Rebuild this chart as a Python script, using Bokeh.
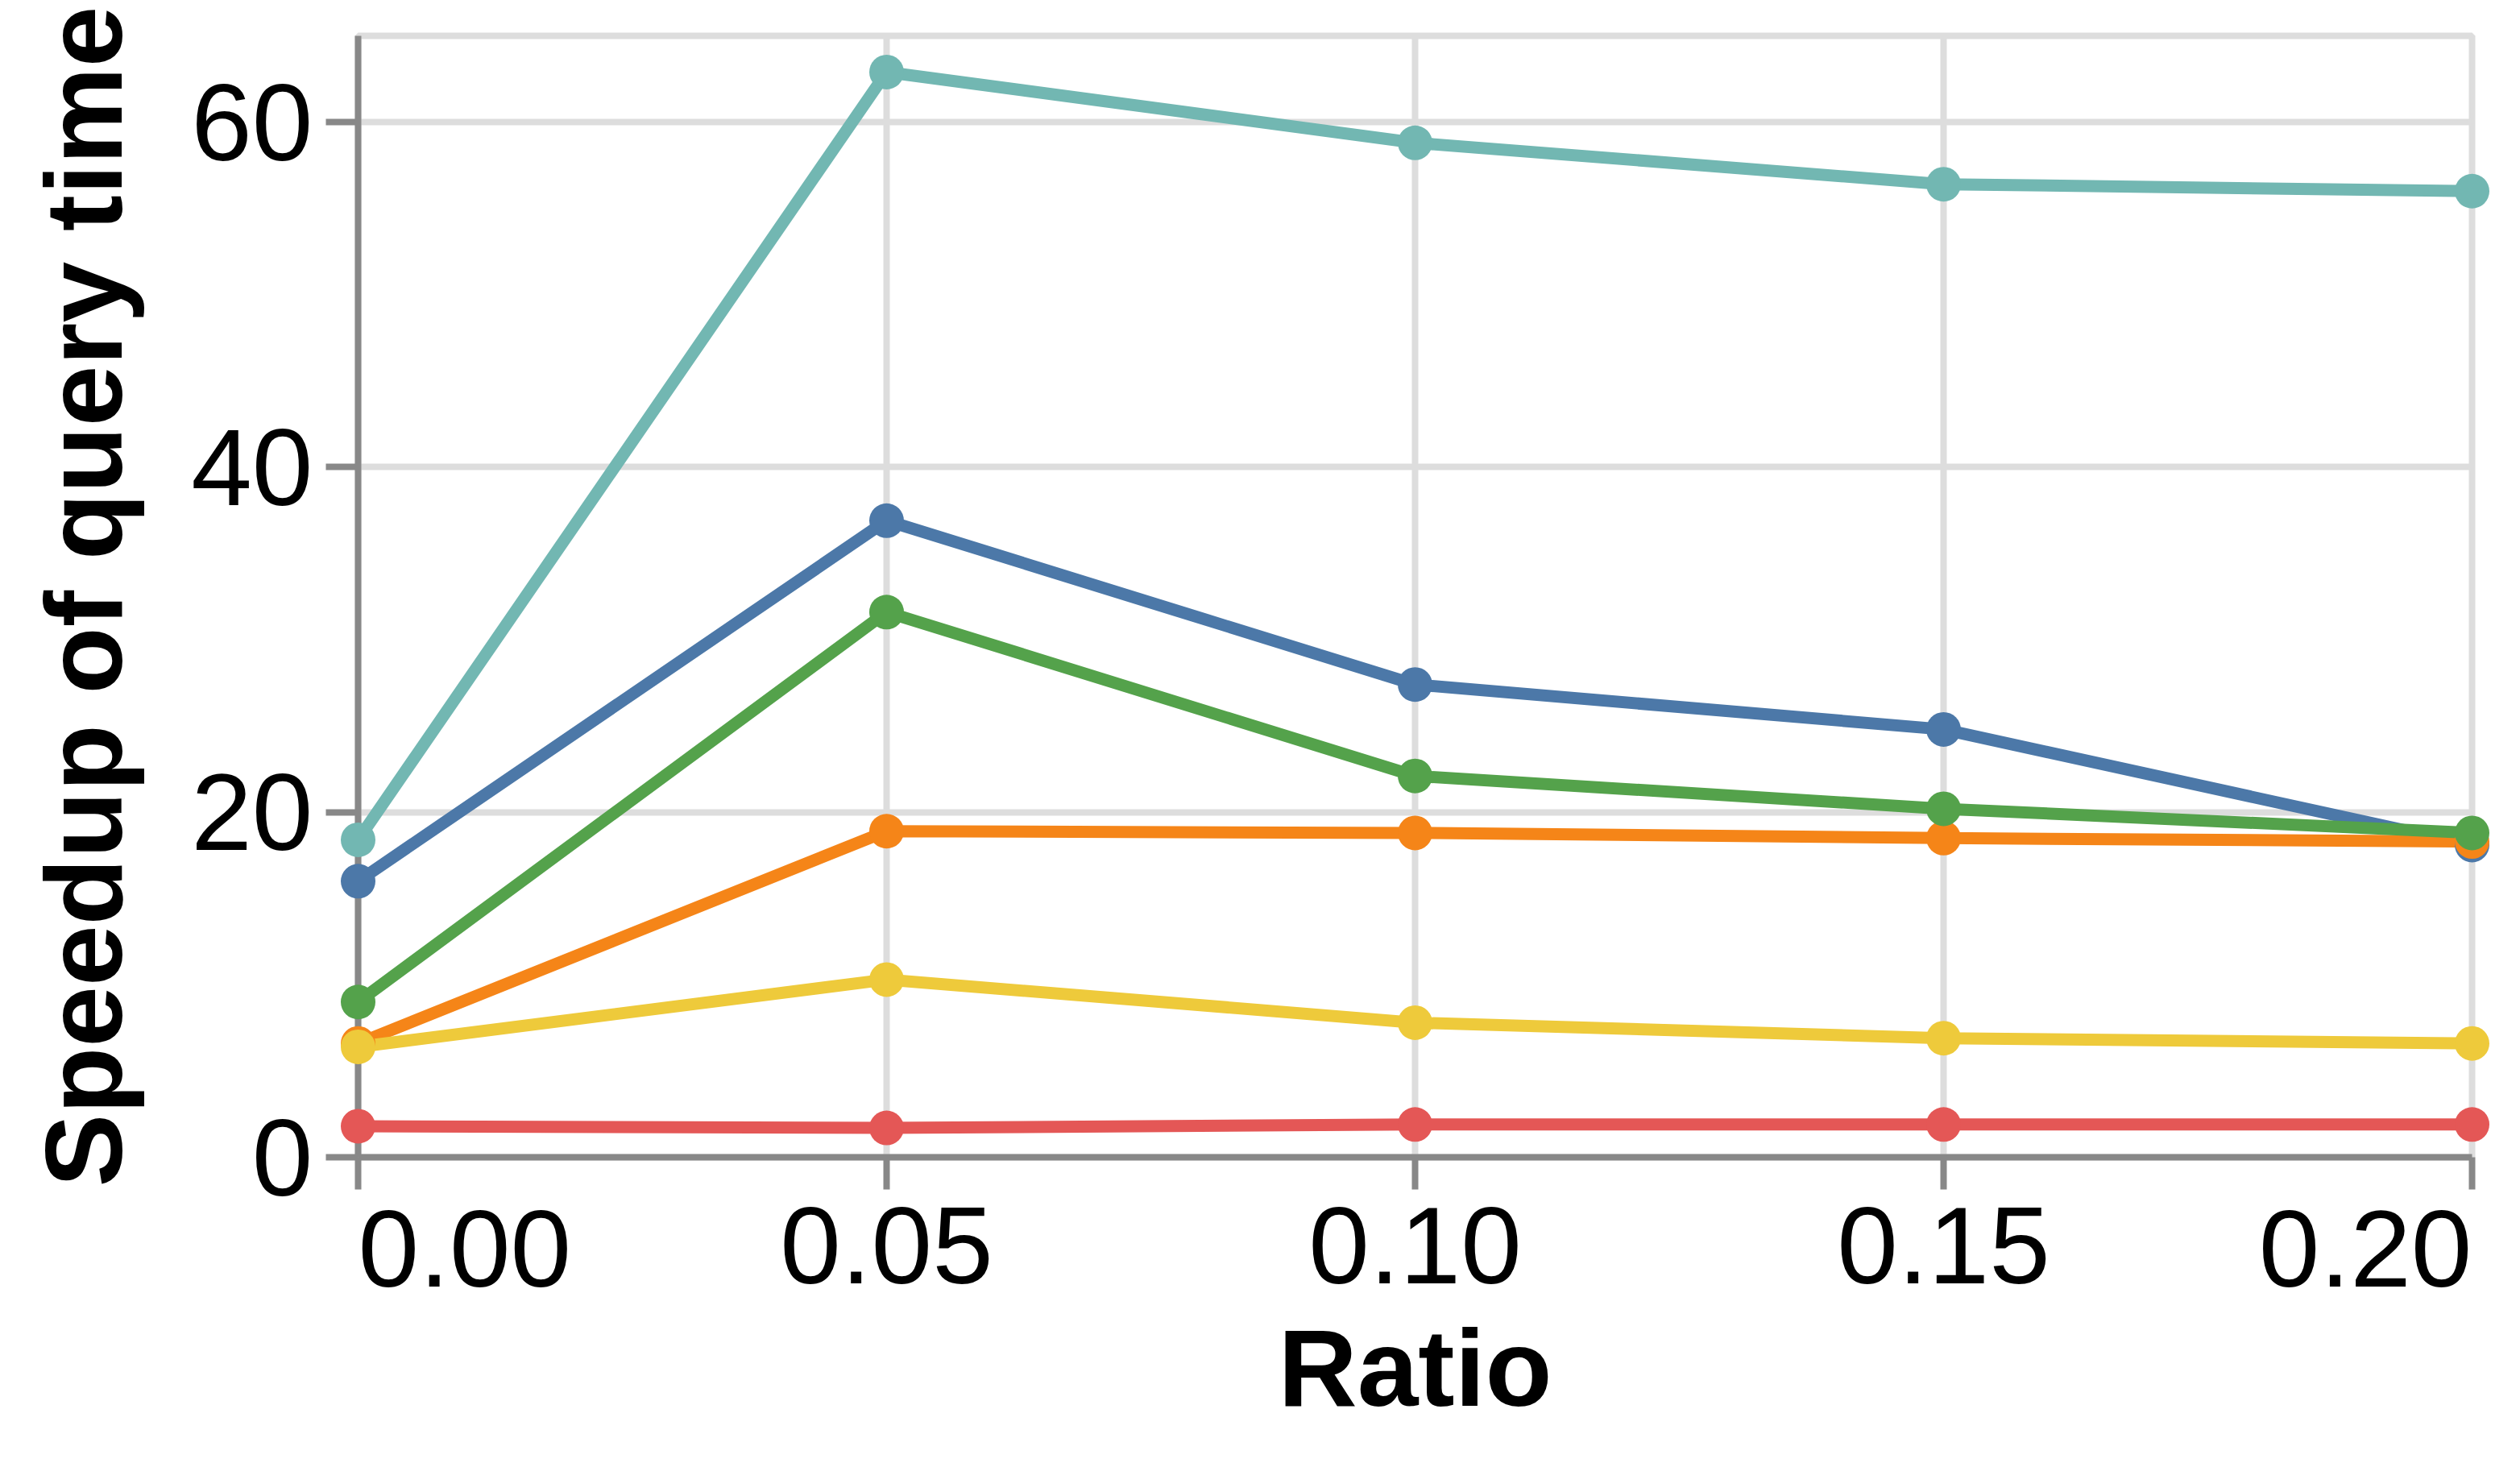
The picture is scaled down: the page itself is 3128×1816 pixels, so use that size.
from bokeh.plotting import figure
from bokeh.models import Range1d, FixedTicker, NumeralTickFormatter
from bokeh.core.properties import value
from bokeh.embed import file_html
from bokeh.resources import INLINE

# ---- data ----
ratio = [0.00, 0.05, 0.10, 0.15, 0.20]
series_blue = [16.0, 36.9, 27.4, 24.8, 18.1]
series_orange = [6.6, 18.9, 18.8, 18.5, 18.3]
series_red = [1.8, 1.7, 1.9, 1.9, 1.9]
series_teal = [18.4, 62.9, 58.8, 56.4, 56.0]
series_green = [9.0, 31.6, 22.1, 20.2, 18.8]
series_yellow = [6.4, 10.3, 7.8, 6.9, 6.6]
x_ticks = [0.00, 0.05, 0.10, 0.15, 0.20]
x_tick_labels = ["0.00", "0.05", "0.10", "0.15", "0.20"]
y_ticks = [0, 20, 40, 60]
x_title = "Ratio"
y_title = "Speedup of query time"

series = [
    (series_blue, "#4c78a8"),
    (series_orange, "#f58518"),
    (series_red, "#e45756"),
    (series_teal, "#72b7b2"),
    (series_green, "#54a24b"),
    (series_yellow, "#eeca3b"),
]

FONT = "Liberation Sans"
FS = "136px"
TICK_OUT = 40

p = figure(
    frame_width=2624, frame_height=1392,
    min_border_left=444, min_border_right=44, min_border_top=44, min_border_bottom=356,
    x_range=Range1d(0, 0.2), y_range=Range1d(0, 65),
    output_backend="svg", toolbar_location=None,
)
p.background_fill_color = "white"
p.border_fill_color = "white"
p.outline_line_color = "#dddddd"
p.outline_line_width = 8

for vals, col in series:
    p.line(ratio, vals, line_width=15, line_color=col, level="overlay")
for vals, col in series:
    p.scatter(ratio, vals, size=43, fill_color=col, line_color=None, level="overlay")

p.xaxis.ticker = FixedTicker(ticks=x_ticks)
p.yaxis.ticker = FixedTicker(ticks=y_ticks)
p.xaxis.formatter = NumeralTickFormatter(format="0.00")
# first / last x labels are drawn flush with the plot edges (below)
p.xaxis.major_label_overrides = {x_ticks[0]: "", x_ticks[-1]: ""}
p.xgrid.ticker = FixedTicker(ticks=x_ticks)
p.ygrid.ticker = FixedTicker(ticks=y_ticks)

for g in (p.xgrid, p.ygrid):
    g.grid_line_color = "#dddddd"
    g.grid_line_width = 8

for ax in (p.xaxis, p.yaxis):
    ax.axis_line_color = "#888888"
    ax.axis_line_width = 8
    ax.major_tick_line_color = "#888888"
    ax.major_tick_line_width = 8
    ax.major_tick_in = 0
    ax.major_tick_out = TICK_OUT
    ax.minor_tick_line_color = None
    ax.major_label_text_font = FONT
    ax.major_label_text_font_size = FS
    ax.major_label_text_color = "black"
    ax.axis_label_text_font = FONT
    ax.axis_label_text_font_size = FS
    ax.axis_label_text_font_style = "bold"
    ax.axis_label_text_color = "black"

p.xaxis.axis_label = x_title
p.yaxis.axis_label = y_title
p.xaxis.major_label_standoff = 22
p.yaxis.major_label_standoff = 16
p.xaxis.axis_label_standoff = 26
p.yaxis.axis_label_standoff = 54

for xv, txt, align in [(x_ticks[0], x_tick_labels[0], "left"), (x_ticks[-1], x_tick_labels[-1], "right")]:
    p.text(
        x=[xv], y=[0], text=[txt], y_offset=113,
        text_align=align, text_baseline="alphabetic",
        text_font=value(FONT), text_font_size=FS, text_color="black",
        level="overlay",
    )

open("out.html", "w").write(file_html(p, INLINE))
